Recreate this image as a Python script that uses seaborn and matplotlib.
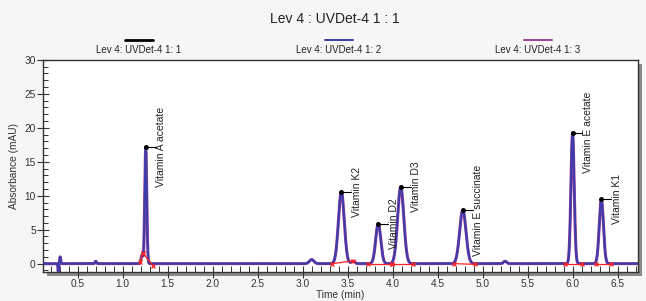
import numpy as np
import pandas as pd
import matplotlib
matplotlib.use("Agg")
import matplotlib.pyplot as plt
import seaborn as sns
from matplotlib.lines import Line2D
from matplotlib.patches import Rectangle
from matplotlib.ticker import MultipleLocator

# peak table (time in min, height in mAU, width = sigma in min)
peak_names = ["Vitamin A acetate", "Vitamin K2", "Vitamin D2", "Vitamin D3",
              "Vitamin E succinate", "Vitamin E acetate", "Vitamin K1"]
peak_times = [1.256, 3.43, 3.84, 4.09, 4.78, 6.00, 6.32]
peak_heights = [17.2, 10.6, 5.9, 11.3, 7.9, 19.3, 9.5]
peak_widths = [0.011, 0.032, 0.028, 0.034, 0.035, 0.018, 0.023]

# small unlabelled bumps / injection artefact
minor_times = [0.285, 0.305, 0.70, 1.215, 3.10, 3.56, 5.25]
minor_heights = [-1.6, 1.0, 0.35, 1.3, 0.6, 0.35, 0.35]
minor_widths = [0.004, 0.006, 0.008, 0.010, 0.025, 0.02, 0.018]

# integration baselines (start/end time and level)
base_t0 = [1.19, 1.225, 3.33, 3.73, 3.99, 4.68, 5.92, 6.26]
base_t1 = [1.225, 1.34, 3.56, 3.99, 4.23, 4.92, 6.11, 6.43]
base_y0 = [0.2, 1.5, 0.0, 0.0, 0.0, 0.0, -0.1, -0.1]
base_y1 = [1.5, -0.3, 0.4, 0.0, 0.0, -0.1, -0.1, -0.1]

series_names = ["Lev 4: UVDet-4 1: 1", "Lev 4: UVDet-4 1: 2", "Lev 4: UVDet-4 1: 3"]
series_colors = ["#000000", "#3c3caa", "#a0409a"]

t = np.linspace(0.11, 6.73, 4000)
y = np.zeros_like(t)
for t0, h, s in zip(peak_times + minor_times, peak_heights + minor_heights,
                    peak_widths + minor_widths):
    y += h * np.exp(-0.5 * ((t - t0) / s) ** 2)

df = pd.concat([pd.DataFrame({"time": t, "abs": y, "series": n}) for n in series_names])

sns.set_style("white")
plt.rcParams["font.family"] = ["Liberation Sans", "DejaVu Sans"]

fig = plt.figure(figsize=(6.46, 3.01), dpi=100, facecolor="#f6f6f6")
ax = fig.add_axes([0.066, 0.097, 0.922, 0.704])

# drop shadow of the plot frame
sh = Rectangle((0.066 + 4 / 646, 0.097 - 4 / 301), 0.922, 0.704, transform=fig.transFigure,
               facecolor="#8a8a8a", edgecolor="none", zorder=-1)
fig.patches.append(sh)

lws = [1.0, 1.5, 2.2]
order = [0, 2, 1]
for i in order:
    sns.lineplot(data=df[df.series == series_names[i]], x="time", y="abs", ax=ax,
                 color=series_colors[i], lw=lws[i], legend=False, zorder=2 + (i == 1))

for a, b, c, d in zip(base_t0, base_t1, base_y0, base_y1):
    ax.plot([a, b], [c, d], color="#ff2020", lw=0.9, marker="x", ms=3.5, mew=0.9, zorder=4)

for name, t0, h in zip(peak_names, peak_times, peak_heights):
    ax.plot([t0, t0 + 0.11], [h, h], color="black", lw=0.8, zorder=5)
    ax.plot([t0], [h], "o", color="black", ms=2.5, zorder=5)
    ax.text(t0 + 0.115, h, name, rotation=90, va="center", ha="left", fontsize=7.5, color="#222222")

ax.set_xlim(0.11, 6.73)
ax.set_ylim(-1.2, 30)
ax.set_facecolor("white")
ax.xaxis.set_major_locator(MultipleLocator(0.5))
ax.xaxis.set_minor_locator(MultipleLocator(0.1))
ax.yaxis.set_major_locator(MultipleLocator(5))
ax.yaxis.set_minor_locator(MultipleLocator(1))
ax.xaxis.set_major_formatter(matplotlib.ticker.FormatStrFormatter("%.1f"))
ax.tick_params(axis="x", which="major", direction="inout", length=8, width=0.8, labelsize=7.3, pad=1)
ax.tick_params(axis="x", which="minor", direction="in", length=4, width=0.7)
ax.tick_params(axis="y", which="major", direction="inout", length=8, width=0.8, labelsize=7.3, pad=1)
ax.tick_params(axis="y", which="minor", direction="in", length=3.5, width=0.7)
ax.tick_params(bottom=True, left=True, which="both", colors="#333333")
for sp in ax.spines.values():
    sp.set_color("#333333")
    sp.set_linewidth(1.0)
ax.set_xlabel("Time (min)", fontsize=7.3, labelpad=1, color="#333333")
ax.set_ylabel("Absorbance (mAU)", fontsize=7.3, labelpad=4, color="#333333")

fig.text(0.518, 1 - 19 / 301, "Lev 4 : UVDet-4 1 : 1", ha="center", va="center", fontsize=10, color="#222222")
cx = [139, 339, 538]
leg_lw = [2.0, 1.4, 1.4]
for c, name, col, w in zip(cx, series_names, series_colors, leg_lw):
    fig.add_artist(Line2D([(c - 14) / 646, (c + 14) / 646], [1 - 40 / 301] * 2,
                          transform=fig.transFigure, color=col, lw=w))
    fig.text(c / 646, 1 - 50 / 301, name, ha="center", va="center", fontsize=7, color="#222222")

fig.savefig("out.png", dpi=100, facecolor=fig.get_facecolor())
